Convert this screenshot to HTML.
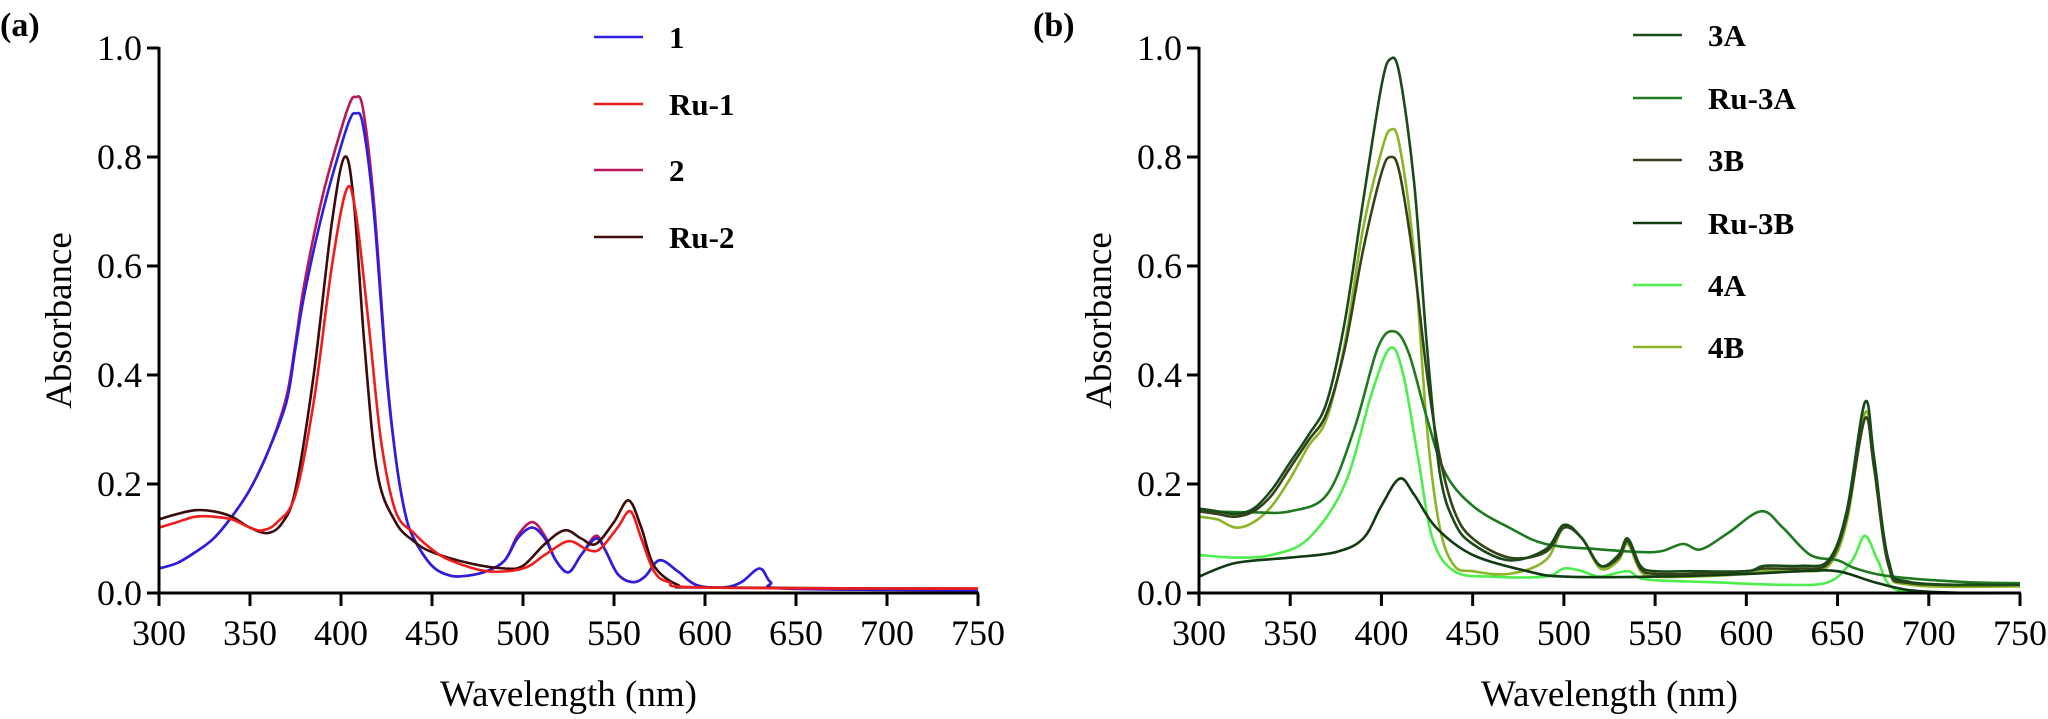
<!DOCTYPE html>
<html><head><meta charset="utf-8">
<style>
html,body{margin:0;padding:0;background:#fff;}
svg{display:block;}
svg text{font-family:"Times New Roman","Liberation Serif",Times,"DejaVu Serif",serif;}
.tick{font-size:36px;fill:#000;}
.ttl{font-size:37px;fill:#000;}
.leg{font-size:31px;font-weight:bold;fill:#000;}
</style></head>
<body>
<svg id="chart" width="2048" height="719" viewBox="0 0 2048 719" xmlns="http://www.w3.org/2000/svg"></svg>
<script>
// ---- data panel (a) ----
const xTicks = [300,350,400,450,500,550,600,650,700,750];
const yTicks = [0.0,0.2,0.4,0.6,0.8,1.0];
const yTickLabels = ["0.0","0.2","0.4","0.6","0.8","1.0"];

const wl1 = [300,310,320,330,340,350,360,370,375,380,390,400,405,408,412,418,425,430,435,440,450,460,470,480,490,497,505,512,518,525,532,540,545,552,560,567,575,585,595,610,620,630,636,645,750];
const abs1 = [0.045,0.055,0.075,0.10,0.14,0.19,0.26,0.35,0.45,0.55,0.70,0.82,0.87,0.88,0.86,0.70,0.40,0.25,0.15,0.10,0.05,0.032,0.032,0.04,0.06,0.10,0.12,0.10,0.06,0.038,0.07,0.10,0.08,0.035,0.02,0.03,0.06,0.04,0.015,0.01,0.02,0.045,0.02,0.008,0.005];
const abs2 = [0.045,0.055,0.075,0.10,0.14,0.19,0.26,0.36,0.46,0.57,0.73,0.85,0.90,0.91,0.89,0.72,0.41,0.25,0.15,0.10,0.05,0.032,0.032,0.04,0.06,0.105,0.13,0.105,0.06,0.038,0.07,0.105,0.08,0.035,0.02,0.03,0.06,0.04,0.015,0.01,0.02,0.045,0.02,0.008,0.005];
const wlRu1 = [300,310,320,330,340,350,357,365,375,385,395,403,408,415,422,430,440,450,460,480,500,512,525,535,542,552,559,565,572,580,600,750];
const absRu1 = [0.12,0.13,0.14,0.14,0.135,0.12,0.115,0.13,0.18,0.35,0.60,0.74,0.70,0.50,0.28,0.15,0.11,0.08,0.06,0.04,0.045,0.07,0.095,0.08,0.08,0.12,0.15,0.10,0.04,0.02,0.01,0.008];
const wlRu2 = [300,310,320,330,340,350,360,368,375,385,395,402,407,413,420,430,440,450,470,490,500,512,523,532,540,550,558,565,572,585,600,750];
const absRu2 = [0.135,0.145,0.152,0.15,0.14,0.12,0.11,0.13,0.19,0.40,0.68,0.80,0.72,0.45,0.22,0.13,0.095,0.075,0.055,0.045,0.05,0.09,0.115,0.10,0.09,0.13,0.17,0.12,0.05,0.015,0.01,0.008];

// ---- data panel (b) ----
const wl3A = [300,310,320,330,340,350,360,370,380,390,400,405,410,418,425,432,440,450,470,490,500,510,520,530,535,542,550,570,600,610,630,645,655,665,670,678,690,750];
const abs3A = [0.155,0.15,0.145,0.155,0.19,0.24,0.29,0.35,0.50,0.72,0.93,0.98,0.95,0.75,0.45,0.22,0.13,0.09,0.06,0.08,0.125,0.10,0.05,0.07,0.10,0.05,0.04,0.04,0.04,0.05,0.05,0.06,0.15,0.35,0.25,0.06,0.02,0.015];
const abs3B = [0.15,0.145,0.14,0.15,0.18,0.23,0.28,0.33,0.45,0.63,0.77,0.80,0.77,0.60,0.40,0.25,0.15,0.10,0.065,0.075,0.12,0.10,0.05,0.065,0.095,0.045,0.035,0.035,0.04,0.045,0.045,0.055,0.14,0.32,0.23,0.05,0.018,0.015];
const abs4B = [0.14,0.135,0.12,0.13,0.16,0.21,0.27,0.32,0.46,0.67,0.81,0.85,0.82,0.62,0.30,0.12,0.05,0.04,0.035,0.06,0.12,0.10,0.045,0.06,0.09,0.04,0.03,0.03,0.035,0.04,0.04,0.05,0.13,0.33,0.24,0.05,0.015,0.012];
const wlRu3A = [300,330,350,370,385,398,407,415,425,435,450,470,490,520,550,565,575,590,608,620,635,650,660,680,720,750];
const absRu3A = [0.15,0.148,0.15,0.18,0.30,0.45,0.48,0.44,0.32,0.22,0.16,0.12,0.09,0.08,0.075,0.09,0.08,0.11,0.15,0.12,0.07,0.06,0.045,0.03,0.02,0.018];
const wlRu3B = [300,320,350,375,390,400,410,418,430,450,480,500,550,600,630,650,670,690,720,750];
const absRu3B = [0.03,0.055,0.065,0.075,0.10,0.16,0.21,0.18,0.12,0.07,0.04,0.03,0.03,0.035,0.04,0.04,0.02,0.005,0.0,0.0];
const wl4A = [300,320,340,360,380,395,405,412,420,428,440,460,490,500,510,520,535,545,580,620,645,658,665,672,680,700,750];
const abs4A = [0.07,0.065,0.07,0.10,0.20,0.37,0.45,0.40,0.25,0.10,0.04,0.03,0.03,0.045,0.04,0.03,0.04,0.025,0.02,0.015,0.02,0.06,0.105,0.06,0.01,0.0,0.0];

const NS = "http://www.w3.org/2000/svg";
const svg = document.getElementById('chart');
const FONT = '"Times New Roman", "Liberation Serif", Times, serif';
function mk(tag, attrs, parent){
  const e = document.createElementNS(NS, tag);
  for (const k in attrs) e.setAttribute(k, attrs[k]);
  if (tag === 'text') e.setAttribute('font-family', FONT);
  (parent||svg).appendChild(e);
  return e;
}
const Y0 = 593, Y1 = 48;
function yScale(v){ return Y0 + (Y1 - Y0) * v; }

function smoothPath(pts){
  let d = "M" + pts[0][0].toFixed(1) + "," + pts[0][1].toFixed(1);
  for (let i=0;i<pts.length-1;i++){
    const p0 = pts[Math.max(0,i-1)], p1 = pts[i], p2 = pts[i+1], p3 = pts[Math.min(pts.length-1,i+2)];
    const c1x = p1[0] + (p2[0]-p0[0])/6, c1y = p1[1] + (p2[1]-p0[1])/6;
    const c2x = p2[0] - (p3[0]-p1[0])/6, c2y = p2[1] - (p3[1]-p1[1])/6;
    d += " C" + c1x.toFixed(1)+","+c1y.toFixed(1)+" "+c2x.toFixed(1)+","+c2y.toFixed(1)+" "+p2[0].toFixed(1)+","+p2[1].toFixed(1);
  }
  return d;
}

function panel(id, X0, X1, label, labelX, series, drawOrder, legX, legRows){
  const g = mk('g', {});
  
  
  const xScale = v => X0 + (X1 - X0) * (v - 300) / 450;

  const pl = mk('text', {x: labelX, y: 36, 'font-size': 34, 'font-weight': 'bold'}, g);
  pl.textContent = label;
  
  

  drawOrder.forEach(idx => {
    const s = series[idx];
    const pts = s.x.map((w,i) => [xScale(w), yScale(s.y[i])]);
    const p = mk('path', {d: smoothPath(pts), fill: 'none', stroke: s.color, 'stroke-width': 2.6, 'stroke-linejoin': 'round'}, g);
    
    
  });

  const ya = mk('line', {x1: X0, y1: Y1-1, x2: X0, y2: Y0+1, stroke: '#000', 'stroke-width': 3}, g);
  
  
  const xa = mk('line', {x1: X0-1, y1: Y0, x2: X1+1, y2: Y0, stroke: '#000', 'stroke-width': 3}, g);
  
  

  yTicks.forEach((v,i) => {
    const y = yScale(v);
    mk('line', {x1: X0-12, y1: y, x2: X0, y2: y, stroke: '#000', 'stroke-width': 3}, g);
    const t = mk('text', {x: X0-17, y: y+12, 'text-anchor': 'end', class: 'tick'}, g);
    t.textContent = yTickLabels[i];
    
    
  });
  xTicks.forEach(v => {
    const x = xScale(v);
    mk('line', {x1: x, y1: Y0, x2: x, y2: Y0+13, stroke: '#000', 'stroke-width': 3}, g);
    const t = mk('text', {x: x, y: Y0+52, 'text-anchor': 'middle', class: 'tick'}, g);
    t.textContent = String(v);
    
    
  });

  const xt = mk('text', {x: (X0+X1)/2, y: 706, 'text-anchor': 'middle', class: 'ttl'}, g);
  xt.textContent = 'Wavelength (nm)';
  
  
  const yt = mk('text', {x: 0, y: 0, 'text-anchor': 'middle', class: 'ttl', transform: 'translate(' + (X0-88) + ',' + ((Y0+Y1)/2) + ') rotate(-90)'}, g);
  yt.textContent = 'Absorbance';
  
  

  series.forEach((s,i) => {
    const y = legRows[i];
    const lg = mk('g', {}, g);
    
    
    mk('line', {x1: legX, y1: y, x2: legX+49, y2: y, stroke: s.color, 'stroke-width': 2.6}, lg);
    const t = mk('text', {x: legX+75, y: y+11, class: 'leg'}, lg);
    t.textContent = s.name;
  });
}

panel('a', 159, 978, '(a)', 0, [
  {name:'1', x: wl1, y: abs1, color:'#2a1ee0'},
  {name:'Ru-1', x: wlRu1, y: absRu1, color:'#f01c1c'},
  {name:'2', x: wl1, y: abs2, color:'#b8185a'},
  {name:'Ru-2', x: wlRu2, y: absRu2, color:'#3c0a0a'}
], [2,0,3,1], 594, [37,104,170,237]);

panel('b', 1199, 2020, '(b)', 1033, [
  {name:'3A', x: wl3A, y: abs3A, color:'#1a4a1a'},
  {name:'Ru-3A', x: wlRu3A, y: absRu3A, color:'#1f7a1f'},
  {name:'3B', x: wl3A, y: abs3B, color:'#34421a'},
  {name:'Ru-3B', x: wlRu3B, y: absRu3B, color:'#103a12'},
  {name:'4A', x: wl4A, y: abs4A, color:'#4cee4c'},
  {name:'4B', x: wl3A, y: abs4B, color:'#8ab526'}
], [4,5,1,3,2,0], 1633, [35,98,160,223,285,347]);
</script>
</body></html>
